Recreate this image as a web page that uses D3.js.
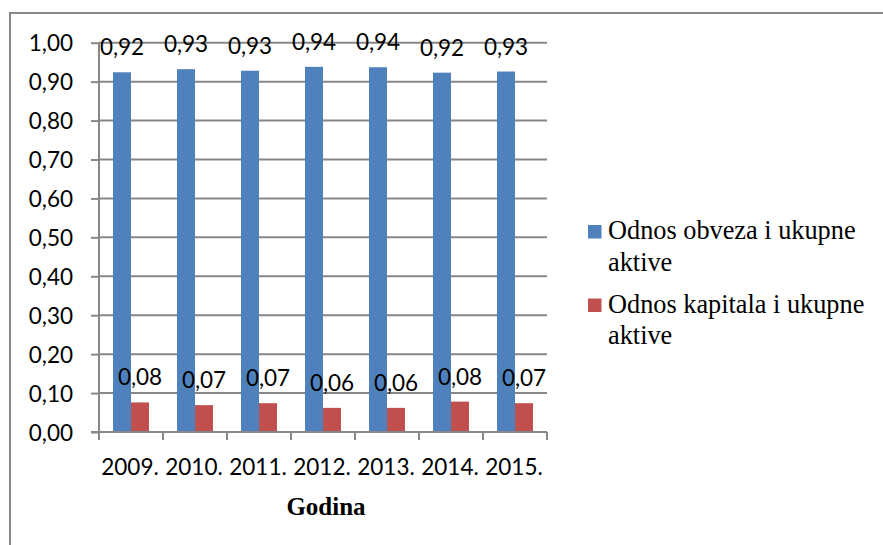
<!DOCTYPE html>
<html>
<head>
<meta charset="utf-8">
<script src="https://cdn.jsdelivr.net/npm/d3@7"></script>
<style>
html,body{margin:0;padding:0;background:#fff;}
svg{display:block;}
</style>
</head>
<body>
<svg id="chart" width="883" height="545"></svg>
<script>
const years = ["2009.", "2010.", "2011.", "2012.", "2013.", "2014.", "2015."];
const obveze = [0.924, 0.932, 0.928, 0.938, 0.937, 0.923, 0.926];
const kapital = [0.076, 0.069, 0.074, 0.062, 0.062, 0.078, 0.074];
const seriesNames = ["Odnos obveza i ukupne aktive", "Odnos kapitala i ukupne aktive"];
const legendLines = [["Odnos obveza i ukupne", "aktive"], ["Odnos kapitala i ukupne", "aktive"]];
const colors = ["#4F81BD", "#C0504D"];
const yTicks = [0, 0.1, 0.2, 0.3, 0.4, 0.5, 0.6, 0.7, 0.8, 0.9, 1.0];
const xTitle = "Godina";

(function () {
const loc = d3.formatLocale({decimal: ",", thousands: ".", grouping: [3], currency: ["", ""]});
const fmt = loc.format(".2f");

const svg = d3.select("#chart");
const W = 883, H = 545;
const pLeft = 99, pRight = 547, pTop = 42.7, pBottom = 432;
const gridColor = "#878787";
const calibri = "Lato, 'Open Sans', sans-serif";
const serif = "'Liberation Serif', 'Times New Roman', serif";

// outer border
svg.append("path")
  .attr("d", `M10,${H} V13 H${W}`)
  .attr("fill", "none").attr("stroke", "#888").attr("stroke-width", 2);

const x = d3.scaleBand().domain(years).range([pLeft, pRight]).paddingInner(0).paddingOuter(0);
const y = d3.scaleLinear().domain([0, 1]).range([pBottom, pTop]);
const barW = x.bandwidth() * 0.28125;

// gridlines
svg.append("g").selectAll("line").data(yTicks.filter(d => d > 0)).join("line")
  .attr("x1", pLeft).attr("x2", pRight)
  .attr("y1", d => y(d)).attr("y2", d => y(d))
  .attr("stroke", gridColor).attr("stroke-width", 2);

// y axis
const yAxis = svg.append("g").attr("transform", `translate(${pLeft},0)`)
  .call(d3.axisLeft(y).tickValues(yTicks).tickFormat(fmt).tickSize(8).tickPadding(18));
yAxis.select(".domain").attr("stroke", gridColor).attr("stroke-width", 2)
  .attr("d", `M0,${y(0)}V${y(1)}`);
yAxis.selectAll(".tick line").attr("stroke", gridColor).attr("stroke-width", 2);
yAxis.selectAll(".tick text").attr("font-family", calibri).attr("font-size", 22.5).attr("fill", "#000").attr("dy", "0.36em");

// bars
const groups = svg.append("g").selectAll("g").data(years).join("g")
  .attr("transform", d => `translate(${x(d) + x.bandwidth() / 2},0)`);
const seriesData = [obveze, kapital];
seriesData.forEach((vals, si) => {
  groups.append("rect")
    .attr("x", si === 0 ? -barW : 0)
    .attr("y", (d, i) => y(vals[i]))
    .attr("width", barW)
    .attr("height", (d, i) => y(0) - y(vals[i]))
    .attr("fill", colors[si]);
});

// x axis
const xAxis = svg.append("g").attr("transform", `translate(0,${pBottom})`);
xAxis.append("line").attr("x1", pLeft - 8).attr("x2", pRight).attr("y1", 0).attr("y2", 0)
  .attr("stroke", gridColor).attr("stroke-width", 2);
xAxis.selectAll("line.tk").data(years.concat(["end"])).join("line").attr("class", "tk")
  .attr("x1", (d, i) => i < years.length ? x(d) : pRight)
  .attr("x2", (d, i) => i < years.length ? x(d) : pRight)
  .attr("y1", 0).attr("y2", 8)
  .attr("stroke", gridColor).attr("stroke-width", 2);
xAxis.selectAll("text").data(years).join("text")
  .attr("x", d => x(d) + x.bandwidth() / 2 - 1)
  .attr("y", 43)
  .attr("text-anchor", "middle")
  .attr("font-family", calibri).attr("font-size", 22.5).attr("fill", "#000")
  .text(d => d);

// data labels
seriesData.forEach((vals, si) => {
  groups.append("text")
    .attr("x", si === 0 ? -barW / 2 : barW / 2)
    .attr("y", (d, i) => y(vals[i]) - 17)
    .attr("text-anchor", "middle")
    .attr("font-family", calibri).attr("font-size", 22.5).attr("fill", "#000")
    .text((d, i) => fmt(vals[i]));
});

// x title
svg.append("text")
  .attr("x", (pLeft + pRight) / 2 + 3).attr("y", 515)
  .attr("text-anchor", "middle")
  .attr("font-family", serif).attr("font-weight", "bold").attr("font-size", 25)
  .text(xTitle);

// legend
const leg = svg.append("g").selectAll("g").data(seriesNames).join("g")
  .attr("transform", (d, i) => `translate(588,${225 + i * 73.5})`);
leg.append("rect").attr("x", 0).attr("y", 0).attr("width", 13.5).attr("height", 13.5)
  .attr("fill", (d, i) => colors[i]);
leg.each(function(d, i) {
  const t = d3.select(this).append("text")
    .attr("font-family", serif).attr("font-size", 26.3).attr("fill", "#000");
  legendLines[i].forEach((ln, j) => {
    t.append("tspan").attr("x", 20).attr("y", 14 + j * 31.7).text(ln);
  });
});
})();
</script>
</body>
</html>
